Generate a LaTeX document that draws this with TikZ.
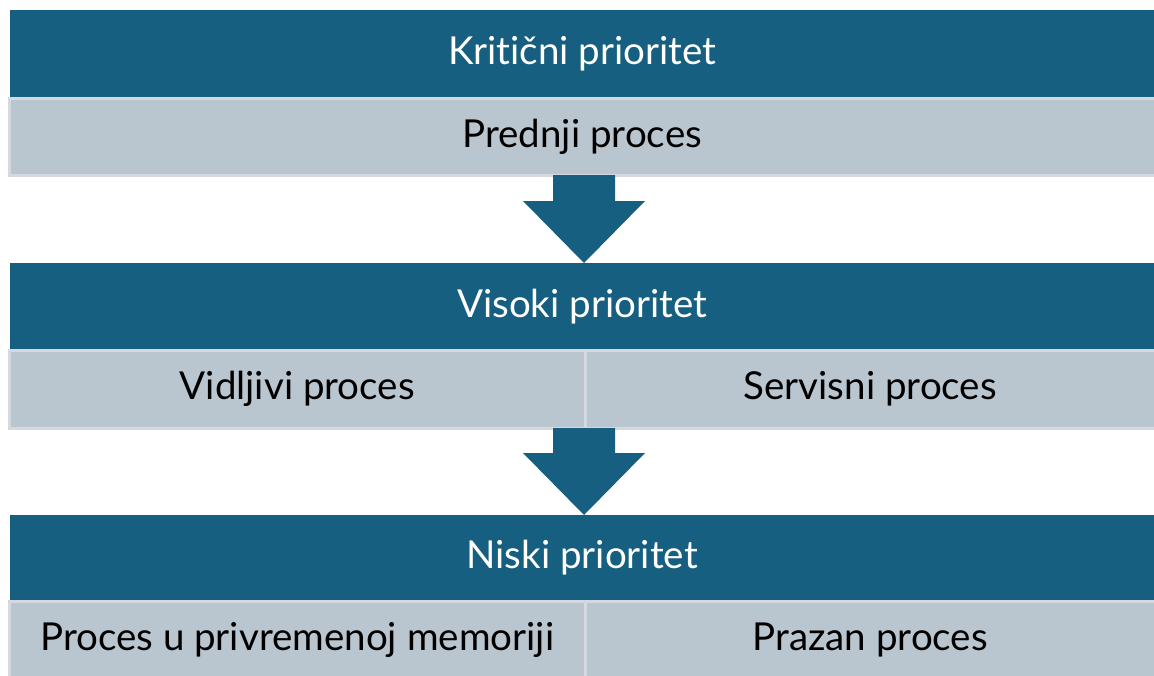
\documentclass[tikz,border=0pt]{standalone}
\usepackage{fontspec}
\setmainfont{Lato}[Ligatures=NoCommon]
\usetikzlibrary{calc}
\definecolor{darkband}{HTML}{165F80}
\definecolor{lightband}{HTML}{BAC6CF}
\definecolor{lightedge}{HTML}{D3D9DE}
\tikzset{
  darkbox/.style={fill=darkband, draw=none, minimum width=1144pt, minimum height=#1, inner sep=0pt, anchor=north west, text=white, font=\fontsize{38.5}{42}\selectfont},
  lightbox/.style={fill=lightband, draw=lightedge, line width=2.5pt, minimum width=#1, inner sep=0pt, anchor=north west, text=black, font=\fontsize{38.5}{42}\selectfont},
  blockarrow/.style={fill=darkband, draw=none}
}
\begin{document}
\begin{tikzpicture}[x=1pt,y=-1pt]
\useasboundingbox (0,0) rectangle (1154,675);
% band 1
\node[darkbox=87pt] (k) at (10,10) {Kritični prioritet};
\node[lightbox=1146pt, minimum height=77pt] (p) at (8,97) {Prednji proces};
% band 2
\node[darkbox=86pt] (v) at (10,263) {Visoki prioritet};
\node[lightbox=576pt, minimum height=78pt] (vp) at (8,349) {Vidljivi proces};
\node[lightbox=570pt, minimum height=78pt] (sp) at (584,349) {Servisni proces};
% band 3
\node[darkbox=85pt] (n) at (10,515) {Niski prioritet};
\node[lightbox=576pt, minimum height=77pt] (pm) at (8,600) {Proces u privremenoj memoriji};
\node[lightbox=570pt, minimum height=77pt] (pz) at (584,600) {Prazan proces};
% arrows
\fill[blockarrow] (553,175) -- (615,175) -- (615,201) -- (645,201) -- (584,263) -- (523,201) -- (553,201) -- cycle;
\fill[blockarrow] (553,428) -- (615,428) -- (615,453) -- (645,453) -- (584,515) -- (523,453) -- (553,453) -- cycle;
\end{tikzpicture}
\end{document}
